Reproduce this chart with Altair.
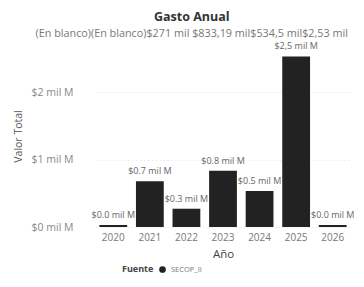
import altair as alt
import pandas as pd

years = ["2020", "2021", "2022", "2023", "2024", "2025", "2026"]
values = [0.03, 0.68, 0.271, 0.833, 0.5345, 2.53, 0.03]
labels = ["$0.0 mil M", "$0.7 mil M", "$0.3 mil M", "$0.8 mil M", "$0.5 mil M", "$2,5 mil M", "$0.0 mil M"]
source = ["SECOP_II"] * 7
y_ticks = [0, 1, 2]
subtitle = "(En blanco)(En blanco)$271 mil $833,19 mil$534,5 mil$2,53 mil"

df = pd.DataFrame({"Año": years, "Valor Total": values, "label": labels, "Fuente": source})

FONT = "Open Sans"
base = alt.Chart(df)

bars = base.mark_bar(color="#222222").encode(
    x=alt.X("Año:N", sort=years,
            scale=alt.Scale(paddingInner=0.24, paddingOuter=0.12),
            axis=alt.Axis(labelAngle=0, title="Año", ticks=False, domain=False, grid=False,
                          labelFontSize=10, labelColor="#777777", labelPadding=5,
                          titleFontSize=11.5, titleColor="#444444", titleFontWeight="normal",
                          titlePadding=6, labelFont=FONT, titleFont=FONT)),
    y=alt.Y("Valor Total:Q", scale=alt.Scale(domain=[0, 2.7], nice=False),
            axis=alt.Axis(values=y_ticks, labelExpr="'$' + datum.value + ' mil M'",
                          ticks=False, domain=False, grid=True, gridDash=[2, 2],
                          gridColor="#ececec", labelFontSize=10.5, labelColor="#888888",
                          labelPadding=22, title="Valor Total", titleFontSize=10.5,
                          titleColor="#555555", titleFontWeight="normal", titlePadding=8,
                          labelFont=FONT, titleFont=FONT)),
    color=alt.Color("Fuente:N", scale=alt.Scale(range=["#222222"]),
                    legend=alt.Legend(orient="none", legendX=27, legendY=220, direction="horizontal",
                                      titleOrient="left", symbolType="circle", symbolSize=45,
                                      titleFontSize=9, titleFontWeight="bold", titleColor="#444444",
                                      labelFontSize=7.5, labelColor="#777777",
                                      titleFont=FONT, labelFont=FONT, titlePadding=4)),
)

text = base.mark_text(dy=-10, fontSize=9, color="#666666", font=FONT).encode(
    x=alt.X("Año:N", sort=years),
    y="Valor Total:Q",
    text="label:N",
)

chart = (bars + text).properties(
    width=256, height=182,
    padding={"left": 5, "right": 0, "top": 3, "bottom": 0},
    background="white",
    title=alt.TitleParams("Gasto Anual", subtitle=subtitle, anchor="middle", frame="bounds",
                          fontSize=12.5, fontWeight="bold", color="#333333", font=FONT,
                          subtitleFontSize=10.8, subtitleColor="#777777", subtitleFont=FONT,
                          subtitlePadding=4, offset=4, dx=8),
).configure_view(strokeWidth=0)

chart.save("out.html", embed_options={"renderer": "svg", "actions": False})
